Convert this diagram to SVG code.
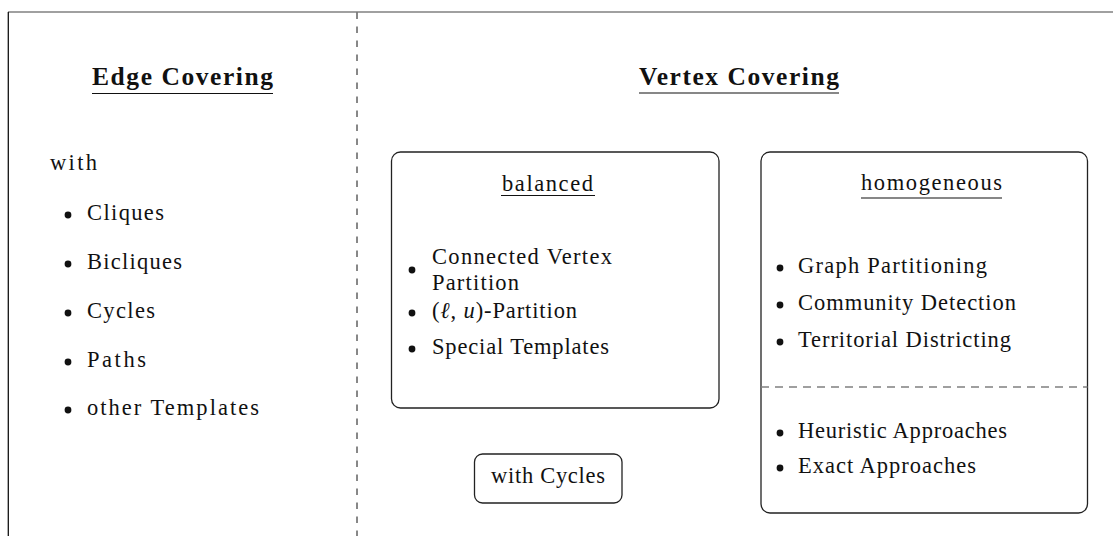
<svg xmlns="http://www.w3.org/2000/svg" width="1113" height="536" viewBox="0 0 1113 536">
<style>
text{font-family:"Liberation Serif","DejaVu Serif",serif;font-size:22.5px;fill:#111}
.title{font-weight:bold;font-size:25.5px}
.box{fill:none;stroke:#222;stroke-width:1.3}
.ul{stroke:#111;stroke-width:1.2}
.dot{fill:#111}
</style>
<rect width="1113" height="536" fill="#fff"/>
<g id="frame">
<line x1="8" y1="12" x2="1113" y2="12" stroke="#808080" stroke-width="1.6"/>
<line x1="8.3" y1="12" x2="8.3" y2="536" stroke="#111" stroke-width="1.3"/>
<line x1="357" y1="12.5" x2="357" y2="536" stroke="#111" stroke-width="1" stroke-dasharray="6.5 7.5"/>
</g>
<g id="edge-covering">
<text class="title" x="92" y="85" textLength="181" lengthAdjust="spacing">Edge Covering</text>
<line class="ul" x1="92" y1="93.5" x2="273" y2="93.5"/>
<text x="50" y="170" textLength="47" lengthAdjust="spacing">with</text>
<circle class="dot" cx="68" cy="215" r="3.4"/>
<text x="87" y="220" textLength="77" lengthAdjust="spacing">Cliques</text>
<circle class="dot" cx="68" cy="264" r="3.4"/>
<text x="87" y="269" textLength="95" lengthAdjust="spacing">Bicliques</text>
<circle class="dot" cx="68" cy="313" r="3.4"/>
<text x="87" y="318" textLength="68" lengthAdjust="spacing">Cycles</text>
<circle class="dot" cx="68" cy="362" r="3.4"/>
<text x="87" y="367" textLength="59" lengthAdjust="spacing">Paths</text>
<circle class="dot" cx="68" cy="410" r="3.4"/>
<text x="87" y="415" textLength="172" lengthAdjust="spacing">other Templates</text>
</g>
<g id="vertex-covering">
<text class="title" x="639" y="85" textLength="200" lengthAdjust="spacing">Vertex Covering</text>
<line class="ul" x1="639" y1="93" x2="839" y2="93"/>
</g>
<g id="balanced">
<rect class="box" x="391.5" y="152" width="327.5" height="256" rx="9"/>
<text x="502" y="191" textLength="91" lengthAdjust="spacing">balanced</text>
<line class="ul" x1="501" y1="195.5" x2="595" y2="195.5"/>
<circle class="dot" cx="412" cy="270" r="3.4"/>
<text x="432" y="264" textLength="180" lengthAdjust="spacing">Connected Vertex</text>
<text x="432" y="290" textLength="87" lengthAdjust="spacing">Partition</text>
<circle class="dot" cx="412" cy="313" r="3.4"/>
<text x="432" y="318" textLength="145" lengthAdjust="spacing">(<tspan font-style="italic">ℓ</tspan>, <tspan font-style="italic">u</tspan>)-Partition</text>
<circle class="dot" cx="412" cy="349" r="3.4"/>
<text x="432" y="354" textLength="177" lengthAdjust="spacing">Special Templates</text>
</g>
<g id="with-cycles">
<rect class="box" x="474.5" y="454" width="147.5" height="49" rx="8"/>
<text x="491" y="483" textLength="114" lengthAdjust="spacing">with Cycles</text>
</g>
<g id="homogeneous">
<rect class="box" x="761" y="152" width="326.5" height="361" rx="9"/>
<text x="861" y="190" textLength="141" lengthAdjust="spacing">homogeneous</text>
<line class="ul" x1="861" y1="198" x2="1002" y2="198"/>
<circle class="dot" cx="780" cy="268" r="3.4"/>
<text x="798" y="273" textLength="189" lengthAdjust="spacing">Graph Partitioning</text>
<circle class="dot" cx="780" cy="305" r="3.4"/>
<text x="798" y="310" textLength="218" lengthAdjust="spacing">Community Detection</text>
<circle class="dot" cx="780" cy="342" r="3.4"/>
<text x="798" y="347" textLength="213" lengthAdjust="spacing">Territorial Districting</text>
<line x1="761" y1="387" x2="1087.5" y2="387" stroke="#808080" stroke-width="1.5" stroke-dasharray="8 6"/>
<circle class="dot" cx="780" cy="433" r="3.4"/>
<text x="798" y="438" textLength="209" lengthAdjust="spacing">Heuristic Approaches</text>
<circle class="dot" cx="780" cy="468" r="3.4"/>
<text x="798" y="473" textLength="178" lengthAdjust="spacing">Exact Approaches</text>
</g>
<g id="connectors"></g>
</svg>
